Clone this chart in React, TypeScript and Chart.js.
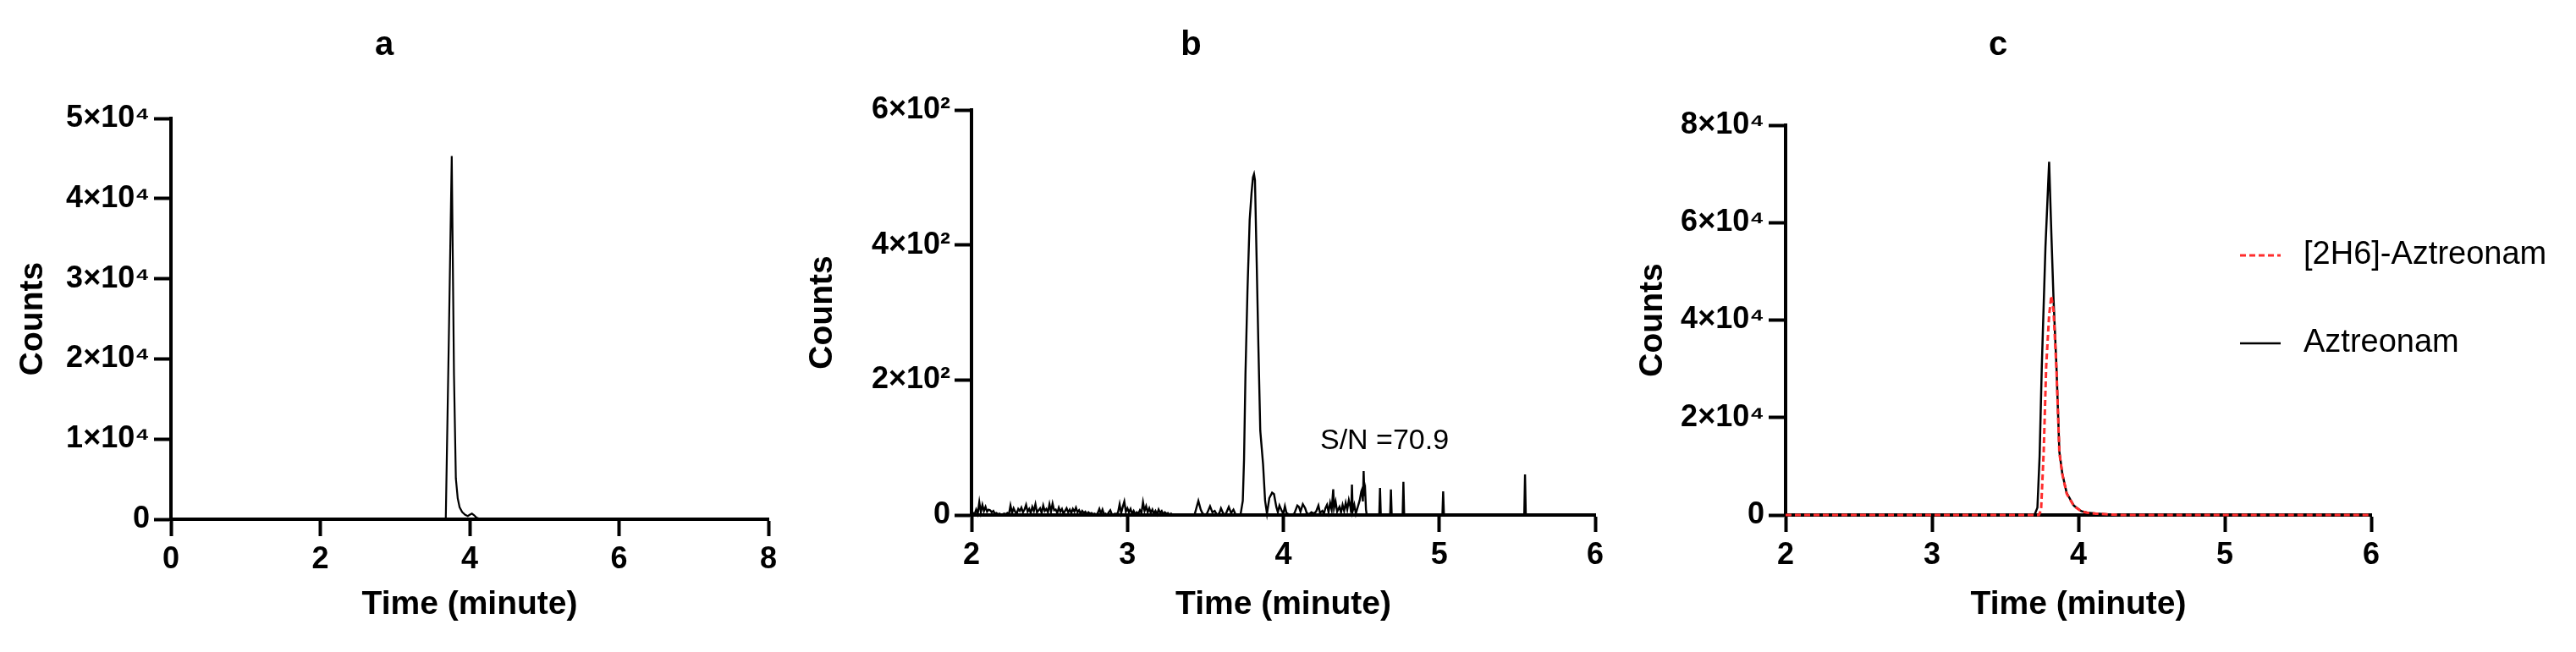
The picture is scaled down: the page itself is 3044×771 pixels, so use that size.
import React, { useEffect, useRef } from "react";
import { Chart, registerables } from "chart.js";

Chart.register(...registerables);

const FONT = "'Liberation Sans', Arial, Helvetica, sans-serif";

// ---------- Panel a ----------
const aTime = [0, 3.68, 3.72, 3.76, 3.79, 3.815, 3.84, 3.865, 3.9, 3.94, 3.975, 4.0, 4.03, 4.06, 4.09, 4.15, 8];
const aCounts = [0, 0, 22000, 45300, 18000, 5100, 2600, 1500, 900, 550, 400, 550, 700, 500, 200, 0, 0];

// ---------- Panel b ----------
const bTime = [
  2.00, 2.01, 2.02, 2.03, 2.04, 2.05, 2.06, 2.07, 2.08, 2.09,
  2.10, 2.11, 2.12, 2.13, 2.14, 2.15, 2.16, 2.17, 2.18, 2.19,
  2.20, 2.21, 2.22, 2.23, 2.24, 2.25, 2.26, 2.27, 2.28, 2.29,
  2.30, 2.31, 2.32, 2.33, 2.34, 2.35, 2.36, 2.37, 2.38, 2.39,
  2.40, 2.41, 2.42, 2.43, 2.44, 2.45, 2.46, 2.47, 2.48, 2.49,
  2.50, 2.51, 2.52, 2.53, 2.54, 2.55, 2.56, 2.57, 2.58, 2.59,
  2.60, 2.61, 2.62, 2.63, 2.64, 2.65, 2.66, 2.67, 2.68, 2.69,
  2.70, 2.71, 2.72, 2.73, 2.74, 2.75, 2.76, 2.77, 2.78, 2.79,
  2.80, 2.81, 2.82, 2.83, 2.84, 2.85, 2.86, 2.87, 2.88, 2.89,
  2.90, 2.91, 2.92, 2.93, 2.94, 2.95, 2.96, 2.97, 2.98, 2.99,
  3.00, 3.01, 3.02, 3.03, 3.04, 3.05, 3.06, 3.07, 3.08, 3.09,
  3.10, 3.11, 3.12, 3.13, 3.14, 3.15, 3.16, 3.17, 3.18, 3.19,
  3.20, 3.21, 3.22, 3.23, 3.24, 3.25, 3.26, 3.27, 3.28, 3.29,
  3.30, 3.32, 3.43, 3.455, 3.47, 3.48, 3.495, 3.51, 3.53, 3.545,
  3.56, 3.575, 3.59, 3.60, 3.615, 3.63, 3.65, 3.665, 3.68, 3.695,
  3.725, 3.74, 3.748, 3.757, 3.77, 3.784, 3.796, 3.805, 3.812, 3.818,
  3.829, 3.84, 3.852, 3.87, 3.883, 3.895, 3.91, 3.928, 3.94, 3.955,
  3.965, 3.975, 3.99, 4.00, 4.01, 4.02, 4.035, 4.05, 4.07, 4.09,
  4.10, 4.11, 4.125, 4.14, 4.15, 4.165, 4.18, 4.195, 4.21, 4.225,
  4.235, 4.25, 4.26, 4.27, 4.28, 4.29, 4.30, 4.31, 4.32, 4.325,
  4.335, 4.345, 4.36, 4.37, 4.38, 4.39, 4.40, 4.41, 4.42, 4.43,
  4.435, 4.44, 4.445, 4.455, 4.465, 4.475, 4.49, 4.50, 4.505, 4.51,
  4.515, 4.52, 4.525, 4.53, 4.535, 4.615, 4.62, 4.625, 4.685, 4.69,
  4.695, 4.765, 4.77, 4.775, 5.02, 5.025, 5.03, 5.545, 5.55, 5.555,
  6.0,
];
const bCounts = [
  0, 3, 1, 8, 2, 19, 4, 15, 6, 12,
  5, 8, 7, 4, 6, 2, 3, 1, 2, 0,
  1, 2, 1, 3, 1, 14, 3, 10, 5, 2,
  9, 6, 11, 4, 8, 15, 5, 9, 3, 12,
  6, 16, 4, 7, 10, 3, 14, 6, 9, 4,
  16, 5, 17, 7, 8, 3, 11, 5, 9, 2,
  6, 10, 4, 8, 3, 9, 5, 11, 4, 7,
  2, 6, 3, 5, 1, 4, 2, 3, 1, 2,
  0, 3, 9, 2, 8, 1, 2, 0, 4, 7,
  1, 0, 2, 1, 4, 16, 3, 12, 20, 5,
  10, 4, 9, 2, 6, 1, 4, 2, 7, 3,
  19, 6, 13, 4, 10, 3, 8, 2, 6, 1,
  8, 3, 6, 1, 4, 2, 3, 0, 2, 0,
  1, 0, 0, 21, 8, 3, 0, 2, 13, 4,
  6, 0, 3, 10, 2, 1, 12, 3, 8, 0,
  0, 21, 83, 208, 333, 437, 477, 500, 505, 496,
  375, 250, 125, 75, 21, 2, 25, 33, 31, 12,
  4, 14, 6, 2, 13, 3, 1, 0, 2, 14,
  12, 5, 16, 10, 3, 1, 4, 2, 5, 14,
  3, 6, 2, 10, 15, 4, 18, 8, 38, 10,
  20, 5, 12, 4, 15, 6, 18, 8, 22, 12,
  3, 45, 6, 15, 2, 10, 22, 35, 38, 20,
  65, 28, 35, 8, 0, 0, 40, 0, 0, 38,
  0, 0, 49, 0, 0, 35, 0, 0, 60, 0,
  0,
];
const snText = "S/N =70.9";
const snX = 4.236;
const snY = 109;

// ---------- Panel c ----------
const cTimeAzt = [2, 3.70, 3.72, 3.735, 3.75, 3.775, 3.80, 3.815, 3.83, 3.85, 3.86, 3.87, 3.89, 3.92, 3.97, 4.02, 4.06, 4.12, 4.2, 4.3, 6];
const cAztreonam = [0, 0, 1500, 12000, 30500, 55000, 72500, 58000, 44400, 30500, 21800, 13000, 8500, 4500, 1900, 800, 500, 300, 150, 0, 0];
const cTimeIS = [2, 3.73, 3.745, 3.763, 3.78, 3.80, 3.815, 3.83, 3.85, 3.86, 3.87, 3.89, 3.92, 3.97, 4.02, 4.06, 4.12, 4.2, 4.3, 6];
const cIS = [0, 0, 1000, 13000, 30500, 41000, 45000, 42000, 30000, 21500, 12800, 8400, 4400, 1800, 750, 480, 280, 140, 0, 0];
const cLegend = ["[2H6]-Aztreonam", "Aztreonam"];

const toXY = (xs: number[], ys: number[]) => xs.map((x, i) => ({ x, y: ys[i] }));

const fmt4 = (v: number) => (v === 0 ? "0" : `${v / 10000}×10⁴`);
const fmt2 = (v: number) => (v === 0 ? "0" : `${v / 100}×10²`);

const H = 771;
const LAYOUT_BOTTOM = 20;
const TITLE_SIZE = 40;
const TITLE_TOP = 30;
const AXIS_TITLE_SIZE = 39;
const TICK_SIZE = 36;

type PanelProps = {
  left: number;
  width: number;
  title: string;
  datasets: any[];
  xMin: number;
  xMax: number;
  xStep: number;
  yMax: number;
  yStep: number;
  fmt: (v: number) => string;
  plotLeft: number;
  plotRight: number;
  plotTop: number;
  plotBottom: number;
  yTitleCenter: number;
  plugins?: any[];
};

function Panel(p: PanelProps) {
  const ref = useRef<HTMLCanvasElement>(null);
  useEffect(() => {
    const tickFont = { family: FONT, size: TICK_SIZE, weight: "bold" as const };
    const titleFont = { family: FONT, size: TITLE_SIZE, weight: "bold" as const };
    const axisFont = { family: FONT, size: AXIS_TITLE_SIZE, weight: "bold" as const };
    const tlh = TITLE_SIZE * 1.2;
    const alh = AXIS_TITLE_SIZE * 1.2;
    const gridOpts = {
      display: true,
      drawOnChartArea: false,
      drawTicks: true,
      tickLength: 20,
      tickWidth: 4,
      tickColor: "#000",
    };
    const chart = new Chart(ref.current!, {
      type: "line",
      data: { datasets: p.datasets },
      options: {
        animation: false,
        responsive: false,
        devicePixelRatio: 1,
        layout: { padding: { left: 0, right: p.width - p.plotRight, top: 0, bottom: LAYOUT_BOTTOM } },
        plugins: {
          legend: { display: false },
          tooltip: { enabled: false },
          title: {
            display: true,
            text: p.title,
            color: "#000",
            font: titleFont,
            padding: { top: TITLE_TOP, bottom: p.plotTop - TITLE_TOP - tlh },
          },
        },
        scales: {
          x: {
            type: "linear",
            min: p.xMin,
            max: p.xMax,
            ticks: { stepSize: p.xStep, font: tickFont, color: "#000", padding: 6, maxRotation: 0, autoSkip: false },
            grid: gridOpts,
            border: { display: true, width: 4, color: "#000" },
            title: {
              display: true,
              text: "Time (minute)",
              color: "#000",
              font: axisFont,
              padding: { top: 0, bottom: 12 },
            },
            afterFit: (s: any) => {
              s.height = H - LAYOUT_BOTTOM - p.plotBottom;
            },
          },
          y: {
            type: "linear",
            min: 0,
            max: p.yMax,
            ticks: { stepSize: p.yStep, font: tickFont, color: "#000", padding: 5, callback: (v: any) => p.fmt(Number(v)) },
            grid: gridOpts,
            border: { display: true, width: 4, color: "#000" },
            title: {
              display: true,
              text: "Counts",
              color: "#000",
              font: axisFont,
              padding: { top: p.yTitleCenter - alh / 2, bottom: 0 },
            },
            afterFit: (s: any) => {
              s.width = p.plotLeft;
            },
          },
        },
      } as any,
      plugins: p.plugins ?? [],
    });
    return () => chart.destroy();
  }, []);
  return (
    <canvas
      ref={ref}
      width={p.width}
      height={H}
      style={{ position: "absolute", left: p.left, top: 0, width: p.width, height: H }}
    />
  );
}

const snPlugin = {
  id: "snText",
  afterDatasetsDraw(chart: any) {
    const { ctx, scales } = chart;
    ctx.save();
    ctx.font = `34px ${FONT}`;
    ctx.fillStyle = "#000";
    ctx.textAlign = "left";
    ctx.textBaseline = "middle";
    ctx.fillText(snText, scales.x.getPixelForValue(snX), scales.y.getPixelForValue(snY));
    ctx.restore();
  },
};

const legendPlugin = {
  id: "cLegend",
  afterDraw(chart: any) {
    const { ctx, chartArea } = chart;
    const ds = chart.data.datasets;
    const x0 = chartArea.left + 537;
    const rows = [chartArea.top + 154, chartArea.top + 258];
    ctx.save();
    ds.forEach((d: any, i: number) => {
      const y = rows[i];
      ctx.beginPath();
      ctx.strokeStyle = d.borderColor;
      ctx.lineWidth = d.borderWidth;
      ctx.setLineDash(d.borderDash || []);
      ctx.moveTo(x0, y);
      ctx.lineTo(x0 + 48, y);
      ctx.stroke();
      ctx.setLineDash([]);
      ctx.font = `38px ${FONT}`;
      ctx.fillStyle = "#000";
      ctx.textAlign = "left";
      ctx.textBaseline = "middle";
      ctx.fillText(d.label, x0 + 75, y);
    });
    ctx.restore();
  },
};

const lineBase = { pointRadius: 0, tension: 0, fill: false, clip: false };

export default function App() {
  const aData = [{ ...lineBase, label: "a", data: toXY(aTime, aCounts), borderColor: "#000", borderWidth: 2.2 }];
  const bData = [{ ...lineBase, label: "b", data: toXY(bTime, bCounts), borderColor: "#000", borderWidth: 2.4 }];
  const cData = [
    { ...lineBase, label: cLegend[0], data: toXY(cTimeIS, cIS), borderColor: "rgb(255,45,45)", borderWidth: 3, borderDash: [7, 4] },
    { ...lineBase, label: cLegend[1], data: toXY(cTimeAzt, cAztreonam), borderColor: "#000", borderWidth: 2.5 },
  ];
  return (
    <div style={{ position: "absolute", left: 0, top: 0, width: 3044, height: H, background: "#fff" }}>
      <Panel
        left={0} width={930} title="a" datasets={aData}
        xMin={0} xMax={8} xStep={2} yMax={50000} yStep={10000} fmt={fmt4}
        plotLeft={202} plotRight={908} plotTop={140} plotBottom={614} yTitleCenter={39}
      />
      <Panel
        left={930} width={990} title="b" datasets={bData}
        xMin={2} xMax={6} xStep={1} yMax={600} yStep={200} fmt={fmt2}
        plotLeft={218} plotRight={955} plotTop={130} plotBottom={609} yTitleCenter={42}
        plugins={[snPlugin]}
      />
      <Panel
        left={1920} width={1124} title="c" datasets={cData}
        xMin={2} xMax={6} xStep={1} yMax={80000} yStep={20000} fmt={fmt4}
        plotLeft={190} plotRight={882} plotTop={148} plotBottom={609} yTitleCenter={33}
        plugins={[legendPlugin]}
      />
    </div>
  );
}
